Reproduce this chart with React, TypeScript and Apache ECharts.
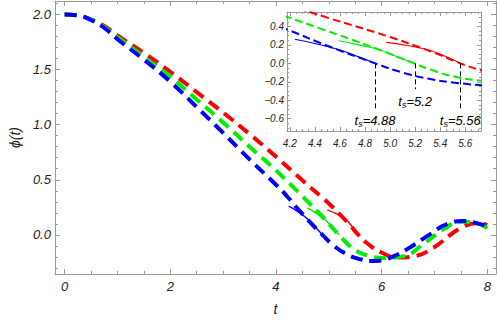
import React, { useEffect, useRef } from "react";
import * as echarts from "echarts";

// ---- data (t, phi(t)) ----
const redDashed: [number, number][] = [
  [0, 2.0], [0.25, 1.99], [0.5, 1.955], [0.75, 1.895], [1.0, 1.81], [1.5, 1.65],
  [2.0, 1.48], [2.5, 1.295], [3.0, 1.11], [3.5, 0.915], [4.0, 0.71], [4.5, 0.495],
  [5.0, 0.285], [5.2, 0.19], [5.4, 0.09], [5.56, 0.0], [5.75, -0.085], [6.0, -0.16],
  [6.3, -0.205], [6.6, -0.195], [7.0, -0.11], [7.3, 0.0], [7.55, 0.075], [7.8, 0.105],
  [8.0, 0.09],
];
const greenDashed: [number, number][] = [
  [0, 2.0], [0.25, 1.99], [0.5, 1.953], [0.75, 1.885], [1.0, 1.795], [1.5, 1.615],
  [2.0, 1.435], [2.5, 1.228], [3.0, 1.02], [3.5, 0.8], [4.0, 0.585], [4.5, 0.35],
  [4.92, 0.144], [5.19, 0.0], [5.35, -0.08], [5.5, -0.14], [5.75, -0.19], [6.05, -0.21],
  [6.4, -0.195], [6.8, -0.08], [7.2, 0.06], [7.5, 0.12], [7.8, 0.105], [8.0, 0.06],
];
const blueDashed: [number, number][] = [
  [0, 2.0], [0.25, 1.99], [0.5, 1.95], [0.75, 1.877], [1.0, 1.775], [1.5, 1.59],
  [2.0, 1.39], [2.5, 1.16], [3.0, 0.925], [3.5, 0.685], [4.0, 0.455], [4.2, 0.355],
  [4.5, 0.19], [4.88, 0.0], [5.1, -0.1], [5.3, -0.165], [5.55, -0.215], [5.8, -0.237],
  [6.0, -0.232], [6.2, -0.2], [6.5, -0.125], [6.9, 0.0], [7.25, 0.1], [7.55, 0.125],
  [7.85, 0.1], [8.0, 0.075],
];
// thin solid approximations that end at the switching times
const blueThin: [number, number][] = [[4.24, 0.26], [4.4, 0.215], [4.6, 0.144], [4.75, 0.07], [4.88, 0.0]];
const greenThin: [number, number][] = [[4.59, 0.245], [4.75, 0.2], [4.92, 0.144], [5.05, 0.075], [5.2, 0.0]];
const redThin: [number, number][] = [[4.97, 0.227], [5.15, 0.19], [5.32, 0.14], [5.45, 0.07], [5.56, 0.0]];

const switchTimes = [4.88, 5.2, 5.56];
const switchLabelDepth = [-0.49, -0.28, -0.49];

const mainXTicks = [0, 2, 4, 6, 8];
const mainYTicks = [0, 0.5, 1.0, 1.5, 2.0];
const insetXTicks = [4.2, 4.4, 4.6, 4.8, 5.0, 5.2, 5.4, 5.6];
const insetYTicks = [-0.6, -0.4, -0.2, 0.0, 0.2, 0.4];

const RED = "#ff0000";
const GREEN = "#00ee00";
const BLUE = "#0000ff";
const FRAME = "#9a9a9a";
const LABEL = "#222";
const FONT = "Liberation Sans";

function minorTicks(min: number, max: number, step: number, majors: number[]) {
  const out: number[] = [];
  const n0 = Math.ceil(min / step - 1e-9);
  const n1 = Math.floor(max / step + 1e-9);
  for (let i = n0; i <= n1; i++) {
    const v = +(i * step).toFixed(4);
    if (!majors.some((m) => Math.abs(m - v) < 1e-6)) out.push(v);
  }
  return out;
}

function axes(
  dim: "x" | "y",
  gridIndex: number,
  min: number,
  max: number,
  majors: number[],
  minors: number[],
  majorLen: number,
  minorLen: number,
  label: any,
  name: any
) {
  const pos = dim === "x" ? ["bottom", "top"] : ["left", "right"];
  const base = { type: "value", gridIndex, min, max, splitLine: { show: false } };
  const line = { show: true, onZero: false, lineStyle: { color: FRAME, width: 1 } };
  const noLine = { show: false, onZero: false };
  const tick = (vals: number[], len: number) => ({
    show: true, inside: true, length: len, customValues: vals,
    lineStyle: { color: FRAME, width: 1 },
  });
  return [
    { ...base, position: pos[0], axisLine: line, axisTick: tick(majors, majorLen), axisLabel: { ...label, customValues: majors }, ...name },
    { ...base, position: pos[0], axisLine: noLine, axisTick: tick(minors, minorLen), axisLabel: { show: false } },
    { ...base, position: pos[1], axisLine: line, axisTick: tick(majors, majorLen), axisLabel: { show: false } },
    { ...base, position: pos[1], axisLine: noLine, axisTick: tick(minors, minorLen), axisLabel: { show: false } },
  ];
}

const fmt1 = (v: number) => v.toFixed(1).replace("-", "\u2212");

export default function App() {
  const ref = useRef<HTMLDivElement>(null);
  useEffect(() => {
    if (!ref.current) return;
    const chart = echarts.init(ref.current, undefined, { renderer: "svg" });

    const mX = [-0.183, 8.165];
    const mY = [-0.355, 2.122];
    const iX = [4.178, 5.725];
    const iY = [-0.733, 0.556];

    const mainLabel = { show: true, color: LABEL, fontFamily: FONT, fontStyle: "italic", fontSize: 13, margin: 6 };
    const insetLabel = { show: true, color: LABEL, fontFamily: FONT, fontStyle: "italic", fontSize: 10, margin: 7 };

    const xAxis = [
      ...axes("x", 0, mX[0], mX[1], mainXTicks, minorTicks(mX[0], mX[1], 0.5, mainXTicks), 5, 3,
        { ...mainLabel, formatter: (v: number) => String(Math.round(v)) },
        { name: "t", nameLocation: "middle", nameGap: 28, nameTextStyle: { fontFamily: FONT, fontStyle: "italic", fontSize: 14, color: LABEL } }),
      ...axes("x", 1, iX[0], iX[1], insetXTicks, minorTicks(iX[0], iX[1], 0.05, insetXTicks), 4, 2,
        { ...insetLabel, formatter: fmt1 }, {}),
    ];
    const yAxis = [
      ...axes("y", 0, mY[0], mY[1], mainYTicks, minorTicks(mY[0], mY[1], 0.1, mainYTicks), 5, 3,
        { ...mainLabel, margin: 4, formatter: fmt1 },
        { name: "\u03d5(t)", nameLocation: "middle", nameGap: 25, nameTextStyle: { fontFamily: FONT, fontStyle: "italic", fontSize: 14, color: LABEL } }),
      ...axes("y", 1, iY[0], iY[1], insetYTicks, minorTicks(iY[0], iY[1], 0.05, insetYTicks), 4, 2,
        { ...insetLabel, margin: 3, formatter: fmt1 }, {}),
    ];

    const dashed = (data: [number, number][], color: string, grid: number, width: number, dash: number[]) => ({
      type: "line", data, xAxisIndex: grid * 4, yAxisIndex: grid * 4, showSymbol: false, symbol: "none",
      smooth: 0.5, clip: true,
      lineStyle: { color, width, type: dash, cap: "butt" },
    });
    const thin = (data: [number, number][], color: string, grid: number, width: number) => ({
      type: "line", data, xAxisIndex: grid * 4, yAxisIndex: grid * 4, showSymbol: false, symbol: "none",
      smooth: 0.5, clip: true, lineStyle: { color, width },
    });

    const rich = {
      i: { fontFamily: FONT, fontStyle: "italic", fontSize: 13, color: "#000", lineHeight: 16 },
      s: { fontFamily: FONT, fontStyle: "italic", fontSize: 9, color: "#000", verticalAlign: "bottom", lineHeight: 16, padding: [6, 0, 0, 0] },
    };
    const marks = {
      type: "line", data: [], xAxisIndex: 4, yAxisIndex: 4, symbol: "none", silent: true,
      markLine: {
        symbol: ["none", "none"], silent: true, animation: false,
        lineStyle: { color: "#000", width: 1, type: [5, 3] },
        label: { show: true, position: "end", distance: 4, color: "#000" },
        data: switchTimes.map((ts, k) => [
          { coord: [ts, 0], label: { formatter: `{i|t}{s|s}{i|=${ts}}`, rich } },
          { coord: [ts, switchLabelDepth[k]] },
        ]),
      },
    };

    chart.setOption({
      animation: false,
      backgroundColor: "#fff",
      grid: [
        { left: 43, right: 1, top: 1, bottom: 41 },
        { left: 287, right: 16, top: 12, bottom: 190, show: true, backgroundColor: "#fff", borderWidth: 0 },
      ],
      xAxis,
      yAxis,
      series: [
        dashed(redDashed, RED, 0, 4, [12, 7]),
        dashed(greenDashed, GREEN, 0, 4, [12, 7]),
        dashed(blueDashed, BLUE, 0, 4, [12, 7]),
        thin(redThin, RED, 0, 1.4),
        thin(greenThin, GREEN, 0, 1.4),
        thin(blueThin, BLUE, 0, 1.4),
        dashed(redDashed, RED, 1, 2, [8, 4]),
        dashed(greenDashed, GREEN, 1, 2, [8, 4]),
        dashed(blueDashed, BLUE, 1, 2, [8, 4]),
        thin(redThin, RED, 1, 1.1),
        thin(greenThin, GREEN, 1, 1.1),
        thin(blueThin, BLUE, 1, 1.1),
        marks,
      ],
    });
    return () => chart.dispose();
  }, []);
  return <div ref={ref} style={{ position: "fixed", left: 0, top: 0, width: 497, height: 321 }} />;
}
